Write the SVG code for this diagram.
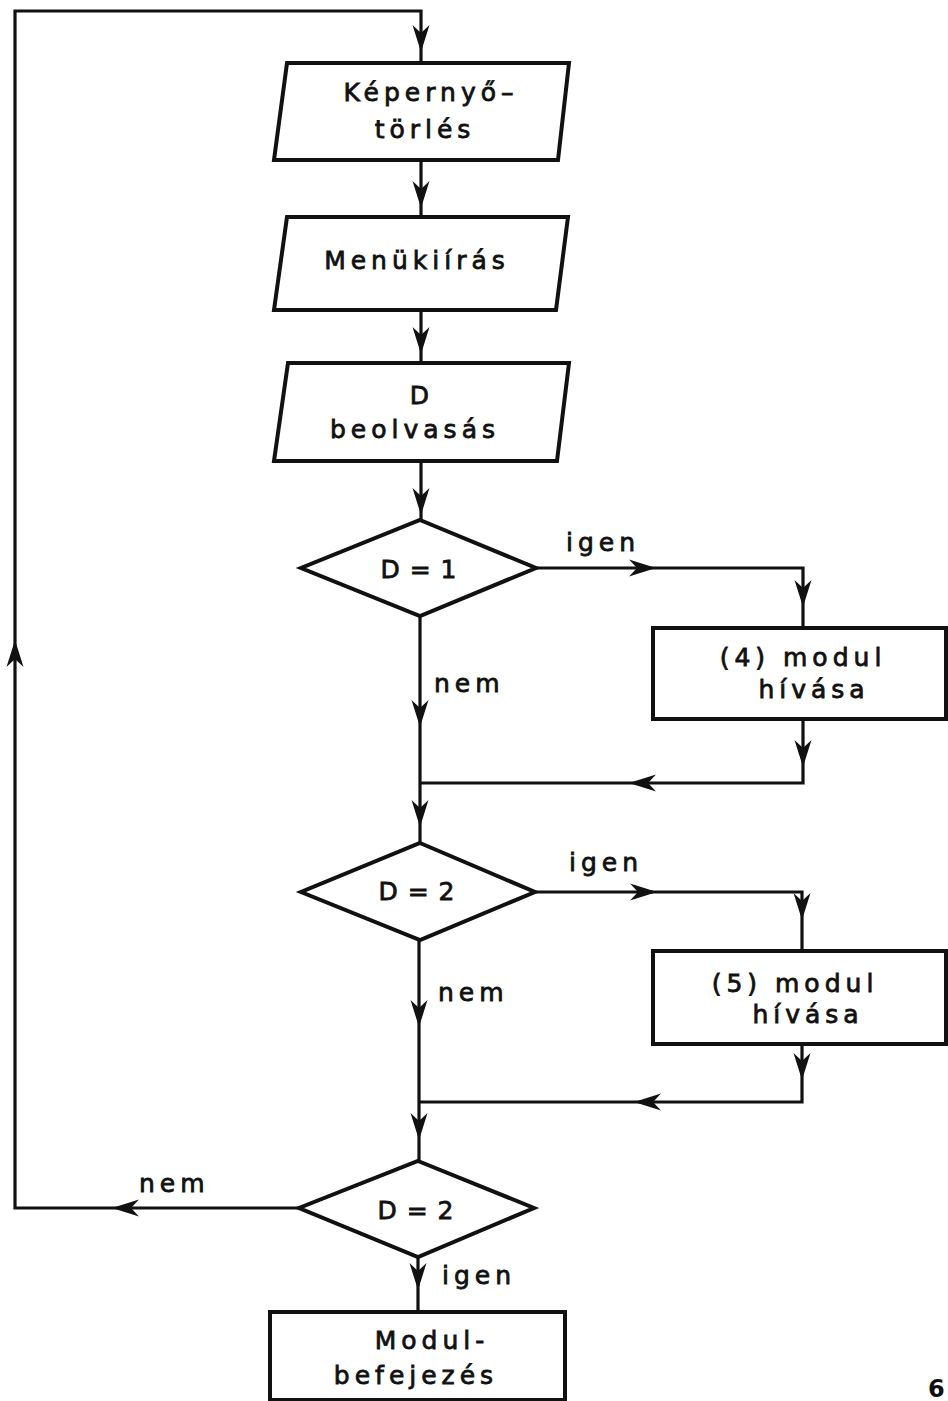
<svg xmlns="http://www.w3.org/2000/svg" xmlns:xlink="http://www.w3.org/1999/xlink" width="948" height="1401" viewBox="0 0 948 1401">
<style>
.shape{fill:#ffffff;stroke:#111111;stroke-width:4;stroke-linejoin:miter}
.conn{fill:none;stroke:#111111;stroke-width:3.2;stroke-linejoin:miter}
.t{font-family:"DejaVu Sans","Liberation Sans",sans-serif;font-size:25px;fill:#111111;stroke:#111111;stroke-width:0.8;letter-spacing:5px}
.m{text-anchor:middle}
.eq{letter-spacing:1px}
.pg{font-family:"DejaVu Sans","Liberation Sans",sans-serif;font-size:24px;font-weight:bold;fill:#111111}
</style>
<defs>
<path id="ah" d="M0,0 L-27,-8.5 L-19,0 L-27,8.5 Z" fill="#111111"/>
</defs>
<rect x="0" y="0" width="948" height="1401" fill="#ffffff"/>
<g id="connectors">
<polyline class="conn" points="299,1208 15,1208 15,11 421,11 421,63"/>
<use xlink:href="#ah" href="#ah" transform="translate(112,1208) rotate(180)"/>
<use xlink:href="#ah" href="#ah" transform="translate(15,640) rotate(-90)"/>
<use xlink:href="#ah" href="#ah" transform="translate(421,52) rotate(90)"/>
<line class="conn" x1="421" y1="160" x2="421" y2="217"/>
<use xlink:href="#ah" href="#ah" transform="translate(421,208) rotate(90)"/>
<line class="conn" x1="421" y1="310" x2="421" y2="363"/>
<use xlink:href="#ah" href="#ah" transform="translate(421,354) rotate(90)"/>
<line class="conn" x1="421" y1="461" x2="421" y2="520"/>
<use xlink:href="#ah" href="#ah" transform="translate(421,515) rotate(90)"/>
<polyline class="conn" points="536,568 803,568 803,628"/>
<use xlink:href="#ah" href="#ah" transform="translate(656,568)"/>
<use xlink:href="#ah" href="#ah" transform="translate(803,607) rotate(90)"/>
<polyline class="conn" points="803,719 803,783 420,783"/>
<use xlink:href="#ah" href="#ah" transform="translate(803,767) rotate(90)"/>
<use xlink:href="#ah" href="#ah" transform="translate(629,783) rotate(180)"/>
<line class="conn" x1="420" y1="616" x2="420" y2="843"/>
<use xlink:href="#ah" href="#ah" transform="translate(420,727) rotate(90)"/>
<use xlink:href="#ah" href="#ah" transform="translate(420,827) rotate(90)"/>
<polyline class="conn" points="535,892 802,892 802,951"/>
<use xlink:href="#ah" href="#ah" transform="translate(657,892)"/>
<use xlink:href="#ah" href="#ah" transform="translate(802,920) rotate(90)"/>
<polyline class="conn" points="802,1044 802,1102 419,1102"/>
<use xlink:href="#ah" href="#ah" transform="translate(802,1080) rotate(90)"/>
<use xlink:href="#ah" href="#ah" transform="translate(634,1102) rotate(180)"/>
<line class="conn" x1="419" y1="940" x2="419" y2="1161"/>
<use xlink:href="#ah" href="#ah" transform="translate(419,1027) rotate(90)"/>
<use xlink:href="#ah" href="#ah" transform="translate(419,1140) rotate(90)"/>
<line class="conn" x1="418" y1="1257" x2="418" y2="1312"/>
<use xlink:href="#ah" href="#ah" transform="translate(418,1290) rotate(90)"/>
</g>
<g id="labels">
<text class="t" x="566" y="551">igen</text>
<text class="t" x="434" y="692">nem</text>
<text class="t" x="569" y="871">igen</text>
<text class="t" x="438" y="1001">nem</text>
<text class="t" x="139" y="1192">nem</text>
<text class="t" x="442" y="1284">igen</text>
</g>
<g id="n1">
<polygon class="shape" points="287,63 569,63 558,160 274,160"/>
<text class="t m" x="431" y="101">Képernyő–</text>
<text class="t m" x="425" y="138">törlés</text>
</g>
<g id="n2">
<polygon class="shape" points="287,217 568,217 556,310 274,310"/>
<text class="t m" x="417" y="269">Menükiírás</text>
</g>
<g id="n3">
<polygon class="shape" points="288,363 569,363 557,461 274,461"/>
<text class="t m" x="422" y="404">D</text>
<text class="t m" x="415" y="438">beolvasás</text>
</g>
<g id="d1">
<polygon class="shape" points="420,520 536,568 420,616 301,568"/>
<text class="t m eq" x="419" y="578">D = 1</text>
</g>
<g id="n4">
<rect class="shape" x="653" y="628" width="293" height="91"/>
<text class="t m" x="803" y="666">(4) modul</text>
<text class="t m" x="814" y="698">hívása</text>
</g>
<g id="d2">
<polygon class="shape" points="420,843 535,892 420,940 301,892"/>
<text class="t m eq" x="417" y="900">D = 2</text>
</g>
<g id="n5">
<rect class="shape" x="653" y="951" width="293" height="93"/>
<text class="t m" x="795" y="992">(5) modul</text>
<text class="t m" x="808" y="1023">hívása</text>
</g>
<g id="d3">
<polygon class="shape" points="418,1161 534,1208 418,1257 299,1208"/>
<text class="t m eq" x="416" y="1219">D = 2</text>
</g>
<g id="n6">
<rect class="shape" x="270" y="1312" width="295" height="88"/>
<text class="t m" x="432" y="1349">Modul-</text>
<text class="t m" x="416" y="1384">befejezés</text>
</g>
<text class="pg" x="928" y="1397">6</text>
</svg>
